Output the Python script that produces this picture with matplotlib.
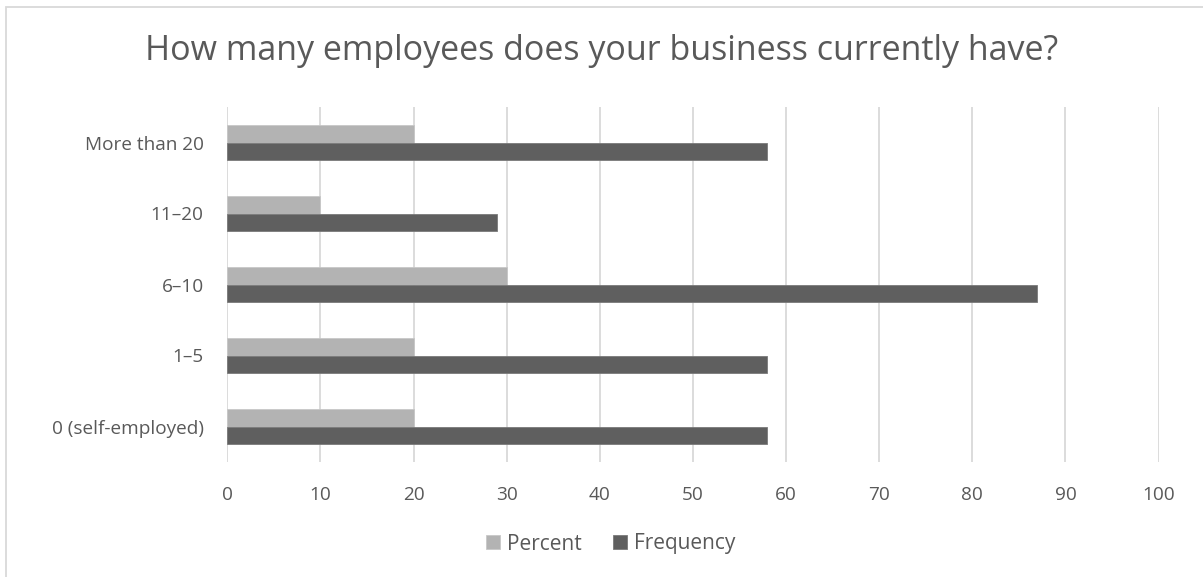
import matplotlib.pyplot as plt
import numpy as np
from matplotlib.patches import Rectangle

plt.rcParams['font.family'] = ['Open Sans', 'DejaVu Sans']

# survey answers, bottom to top
categories = ["0 (self-employed)", "1–5", "6–10", "11–20", "More than 20"]
percent = [20, 20, 30, 10, 20]
frequency = [58, 58, 87, 29, 58]

txt = "#595959"
c_pct = "#b3b3b3"
c_freq = "#5f5f5f"

fig = plt.figure(figsize=(12.03, 5.77), dpi=100)
ax = fig.add_axes([227.3 / 1203, 1 - 462 / 577, (1158.5 - 227.3) / 1203, (462 - 107) / 577])

y = np.arange(len(categories))
h = 0.25
ax.barh(y + h / 2, percent, height=h, color=c_pct, edgecolor="#c8c8c8", linewidth=0.6, label="Percent", zorder=3)
ax.barh(y - h / 2, frequency, height=h, color=c_freq, edgecolor="#7a7a7a", linewidth=0.6, label="Frequency", zorder=3)

ax.set_xlim(0, 100)
ax.set_ylim(-0.5, len(categories) - 0.5)
ax.set_xticks(range(0, 101, 10))
ax.set_yticks(y)
ax.set_yticklabels(categories)
ax.grid(axis="x", color="#d9d9d9", linewidth=1.3, zorder=0)
for s in ax.spines.values():
    s.set_visible(False)
ax.tick_params(axis="both", length=0, labelsize=13.7, labelcolor=txt)
ax.tick_params(axis="x", pad=17)
ax.tick_params(axis="y", pad=17)

fig.text(0.5, 1 - 51 / 577, "How many employees does your business currently have?",
         ha="center", va="center", fontsize=24.5, color=txt)

handles, labels = ax.get_legend_handles_labels()
leg = fig.legend(handles, labels, loc="center", bbox_to_anchor=(611 / 1203, 1 - 544 / 577), ncol=2,
                 frameon=False, fontsize=15, handlelength=0.65, handleheight=0.65,
                 handletextpad=0.35, columnspacing=1.5)
for t in leg.get_texts():
    t.set_color(txt)

# chart border (left and top edges visible)
fig.patches.append(Rectangle((6 / 1203, -0.05), 1.1, 1 - 7 / 577 + 0.05, transform=fig.transFigure,
                             fill=False, edgecolor="#d9d9d9", linewidth=1.3))

fig.savefig("out.png", dpi=100)
